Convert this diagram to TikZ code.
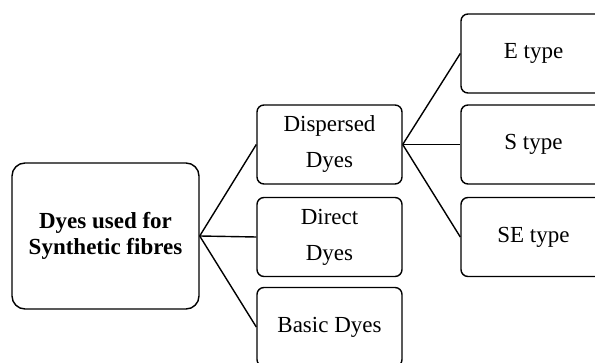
\documentclass[tikz,border=0pt]{standalone}
\usepackage{fontspec}
\setmainfont{Liberation Serif}
\begin{document}
\begin{tikzpicture}[x=1pt,y=-1pt,
  box/.style={draw,line width=1.4pt,rounded corners=7pt,inner sep=0pt,
    minimum width=145pt,minimum height=79pt,align=center,
    font=\fontsize{23}{36}\selectfont},
  rootbox/.style={box,rounded corners=13pt,minimum width=187pt,minimum height=146pt,
    font=\fontsize{23}{26}\selectfont\bfseries},
  link/.style={line width=1.4pt}]
\useasboundingbox (0,0) rectangle (595,363);
\clip (0,0) rectangle (595,363);
\node[rootbox] (root) at (105.5,236) {Dyes used for\\Synthetic fibres};
\node[box] (disp) at (329.5,144.5) {Dispersed\\Dyes};
\node[box] (dir) at (329.5,237) {Direct\\Dyes};
\node[box] (bas) at (329.5,327) {Basic Dyes};
\node[box] (e) at (533.5,53.5) {E type};
\node[box] (s) at (533.5,144.5) {S type};
\node[box] (se) at (533.5,237) {SE type};
\draw[link] (root.east) -- (disp.west);
\draw[link] (root.east) -- (dir.west);
\draw[link] (root.east) -- (bas.west);
\draw[link] (disp.east) -- (e.west);
\draw[link] (disp.east) -- (s.west);
\draw[link] (disp.east) -- (se.west);
\end{tikzpicture}
\end{document}
